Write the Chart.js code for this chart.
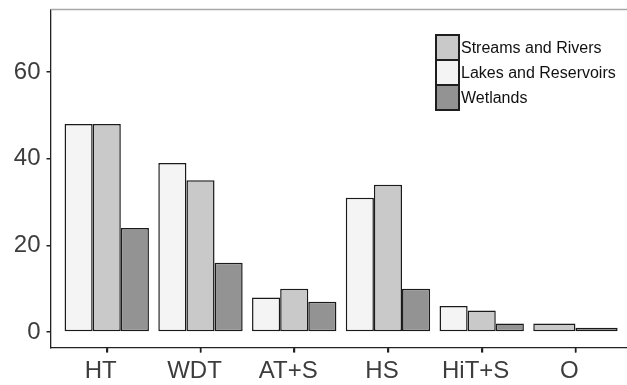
<!DOCTYPE html>
<html>
<head>
<meta charset="utf-8">
<script src="https://cdn.jsdelivr.net/npm/chart.js@4.4.0/dist/chart.umd.min.js"></script>
<style>
  html, body { margin: 0; padding: 0; background: #fff; }
  #wrap { width: 627px; height: 385px; }
</style>
</head>
<body>
<div id="wrap"><canvas id="habitatChart" width="627" height="385"></canvas></div>
<script>
// categories on the x axis
const categories = ['HT', 'WDT', 'AT+S', 'HS', 'HiT+S', 'O'];
// counts per water body type (null = no bar)
const lakesValues = [48, 39, 8, 31, 6, null];
const streamsValues = [48, 35, 10, 34, 5, 2];
const wetlandsValues = [24, 16, 7, 10, 2, 1];
const yTicks = [0, 20, 40, 60];

const lakesLabel = 'Lakes and Reservoirs';
const streamsLabel = 'Streams and Rivers';
const wetlandsLabel = 'Wetlands';

function toPoints(values) {
  return values.map((v, i) => ({ x: i + 1, y: v }));
}

const textColor = '#3d3d3d';
const axisColor = '#222';

// draws the gray top frame line, the x tick marks and the legend box
const extrasPlugin = {
  id: 'extras',
  afterDraw(chart) {
    const ctx = chart.ctx;
    const area = chart.chartArea;
    ctx.save();
    ctx.strokeStyle = '#a8a8a8';
    ctx.lineWidth = 1.5;
    ctx.beginPath();
    ctx.moveTo(area.left, area.top);
    ctx.lineTo(chart.width, area.top);
    ctx.stroke();

    // small tick marks under the x axis
    const xs = chart.scales.x;
    ctx.strokeStyle = axisColor;
    ctx.lineWidth = 1.4;
    categories.forEach((c, i) => {
      const px = Math.round(xs.getPixelForValue(i + 1)) + 0.5;
      ctx.beginPath();
      ctx.moveTo(px, area.bottom);
      ctx.lineTo(px, area.bottom + 5);
      ctx.stroke();
    });

    // legend order: streams, lakes, wetlands
    const order = [1, 0, 2];
    const bx = 436, by = 35, bw = 23, bh = 25;
    ctx.font = '16px "Liberation Sans", Arial, sans-serif';
    ctx.textBaseline = 'middle';
    ctx.textAlign = 'left';
    order.forEach((di, k) => {
      const ds = chart.data.datasets[di];
      const y = by + k * bh;
      ctx.fillStyle = ds.backgroundColor;
      ctx.fillRect(bx, y, bw, bh);
      ctx.strokeStyle = '#1e1e1e';
      ctx.lineWidth = 2;
      ctx.strokeRect(bx, y, bw, bh);
      ctx.fillStyle = '#111';
      ctx.fillText(ds.label, bx + bw + 2, y + bh / 2 + 1);
    });
    ctx.restore();
  }
};

const ctx = document.getElementById('habitatChart').getContext('2d');
const chart = new Chart(ctx, {
  type: 'bar',
  data: {
    datasets: [
      { label: lakesLabel, data: toPoints(lakesValues), backgroundColor: '#f4f4f4' },
      { label: streamsLabel, data: toPoints(streamsValues), backgroundColor: '#c9c9c9' },
      { label: wetlandsLabel, data: toPoints(wetlandsValues), backgroundColor: '#939393' }
    ]
  },
  options: {
    responsive: false,
    animation: false,
    layout: { padding: { top: 9.5, right: 0, left: 0, bottom: 0 } },
    datasets: {
      bar: {
        borderColor: '#1a1a1a',
        borderWidth: 1.5,
        borderSkipped: false,
        categoryPercentage: 0.9,
        barPercentage: 1.0,
        skipNull: true
      }
    },
    plugins: {
      legend: { display: false },
      tooltip: { enabled: false }
    },
    scales: {
      x: {
        type: 'linear',
        offset: false,
        min: 0.4,
        max: 6.55,
        afterBuildTicks: (scale) => { scale.ticks = categories.map((c, i) => ({ value: i + 1 })); },
        afterFit: (scale) => {
          scale.height = 37.5;
          scale.paddingLeft = 0; scale.paddingRight = 0;
        },
        ticks: {
          callback: (v) => categories[v - 1],
          color: textColor,
          font: { family: '"Liberation Sans", Arial, sans-serif', size: 24 },
          padding: 4,
          labelOffset: -6,
          maxRotation: 0,
          autoSkip: false
        },
        grid: { offset: false, drawOnChartArea: false, drawTicks: true, tickLength: 5, color: axisColor, lineWidth: 1.5 },
        border: { display: true, color: axisColor, width: 1.3 }
      },
      y: {
        min: -3.55,
        max: 74.4,
        afterBuildTicks: (scale) => { scale.ticks = yTicks.map(v => ({ value: v })); },
        afterFit: (scale) => {
          scale.width = 50.5;
          scale.paddingTop = 0; scale.paddingBottom = 0;
        },
        ticks: {
          color: textColor,
          font: { family: '"Liberation Sans", Arial, sans-serif', size: 24 },
          padding: 6
        },
        grid: { drawOnChartArea: false, drawTicks: true, tickLength: 4, color: axisColor, lineWidth: 1.5 },
        border: { display: true, color: axisColor, width: 1.3 }
      }
    }
  },
  plugins: [extrasPlugin]
});
</script>
</body>
</html>
